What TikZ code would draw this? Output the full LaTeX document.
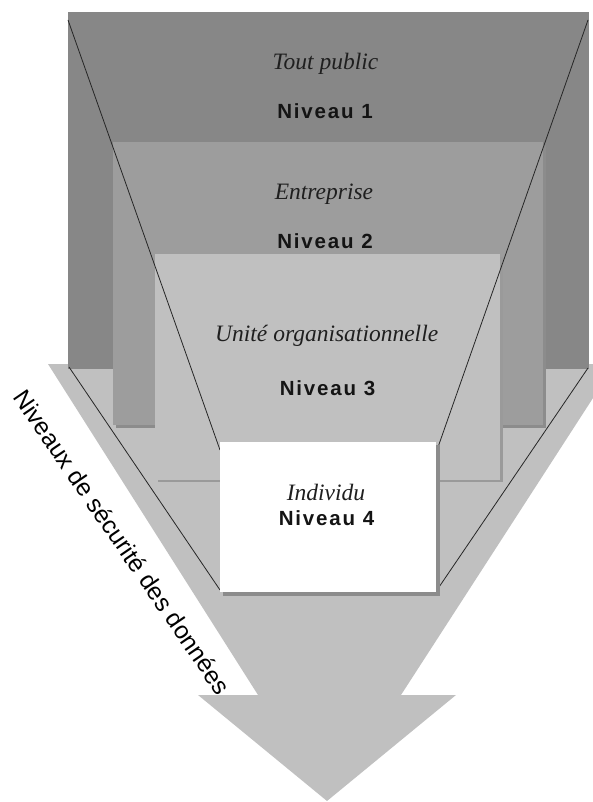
\documentclass[tikz,border=0pt]{standalone}
\usepackage{fontspec}
\setmainfont{Liberation Serif}
\newfontfamily\lvlfont{Liberation Sans}[LetterSpace=9]
\newfontfamily\axisfont{Liberation Sans}
\definecolor{boxone}{HTML}{878787}
\definecolor{boxtwo}{HTML}{9D9D9D}
\definecolor{boxthree}{HTML}{C0C0C0}
\definecolor{arrowgray}{HTML}{C0C0C0}
\definecolor{shadowgray}{HTML}{8C8C8C}
\definecolor{shadowlight}{HTML}{9A9A9A}
\begin{document}
\begin{tikzpicture}[x=1pt,y=-1pt,
  lvl/.style={anchor=base, font=\lvlfont\bfseries\fontsize{20.5}{22}\selectfont, text=black!92, inner sep=0pt},
  lbl/.style={anchor=base, font=\itshape\fontsize{23.5}{25}\selectfont, text=black!88, inner sep=0pt},
  guide/.style={draw=black!85, line width=0.8pt}]
\useasboundingbox (0,0) rectangle (593,802);
% big arrow
\fill[arrowgray] (48,364) -- (615,364) -- (401,695) -- (456,695) -- (327,801)
  -- (198,695) -- (258,695) -- cycle;
% box 1
\fill[boxone] (68,12) rectangle (589,369);
% box 2
\fill[shadowgray] (116,145) rectangle (546,428);
\fill[boxtwo] (113,142) rectangle (543,425);
% box 3
\fill[shadowlight] (158,257) rectangle (503,482);
\fill[boxthree] (155,254) rectangle (500,480);
% guide lines
\coordinate (o1) at (68,20);
\coordinate (o2) at (588,20);
\coordinate (o3) at (69,367);
\coordinate (o4) at (588,368);
\coordinate (i1) at (220,450);
\coordinate (i2) at (437,450);
\coordinate (i3) at (220,590);
\coordinate (i4) at (437,590);
\draw[guide] (o1) -- (i1);
\draw[guide] (o2) -- (i2);
\draw[guide] (o3) -- (i3);
\draw[guide] (o4) -- (i4);
% box 4
\fill[shadowgray] (223,445) rectangle (440,596);
\fill[white] (220,442) rectangle (436,592);
% texts
\node[lbl] (t1) at (325.5,69.3) {Tout public};
\node[lvl] (n1) at (325,118.3) {Niveau 1};
\node[lbl] (t2) at (324,199.3) {Entreprise};
\node[lvl] (n2) at (325,248.3) {Niveau 2};
\node[lbl] (t3) at (326.7,341.7) {Unité organisationnelle};
\node[lvl] (n3) at (327.5,395) {Niveau 3};
\node[lbl] (t4) at (326,500) {Individu};
\node[lvl] (n4) at (326.5,525) {Niveau 4};
\node[rotate=-55.6, font=\axisfont\fontsize{24.5}{26}\selectfont, inner sep=0pt] (axis) at (122.5,542) {Niveaux de sécurité des données};
\end{tikzpicture}
\end{document}
